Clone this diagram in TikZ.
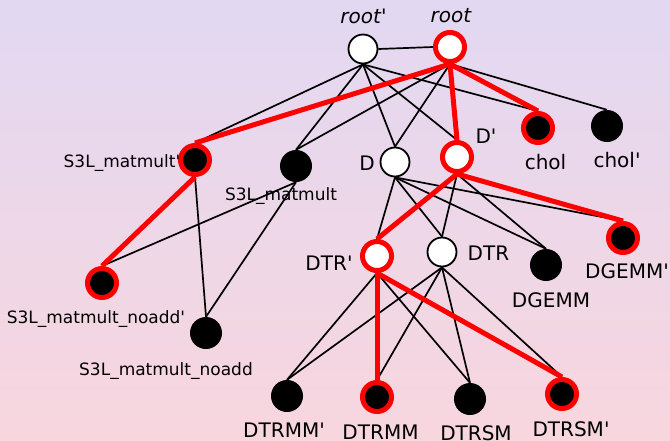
\documentclass[tikz,border=0pt]{standalone}
\usepackage{fontspec}
\setmainfont{DejaVu Sans}[Ligatures=TeXOff]
\pgfdeclarelayer{back}
\pgfdeclarelayer{edges}
\pgfsetlayers{back,edges,main}
\definecolor{bgtop}{RGB}{226,216,242}
\definecolor{bgbottom}{RGB}{248,214,222}
\begin{document}
\begin{tikzpicture}[x=1pt,y=-1pt,
  every node/.style={inner sep=0pt},
  opennode/.style={circle,draw=black,line width=1.8pt,fill=white,minimum size=29pt},
  solidnode/.style={circle,fill=black,minimum size=32pt},
  redopen/.style={circle,draw=red,line width=5pt,fill=white,minimum size=29pt},
  redsolid/.style={circle,draw=red,line width=5pt,fill=black,minimum size=29pt},
  big/.style={font=\fontsize{20}{20}\selectfont,anchor=base},
  small/.style={font=\fontsize{17}{17}\selectfont,anchor=base},
  link/.style={line width=1.7pt,black},
  hot/.style={line width=5pt,red},
]
\useasboundingbox (0,0) rectangle (670,440);
\begin{pgfonlayer}{back}
  \shade[top color=bgtop,bottom color=bgbottom] (0,0) rectangle (670,440);
\end{pgfonlayer}

% vertices
\node[opennode]  (rootp)   at (363,49)  {};
\node[redopen]   (root)    at (450,47)  {};
\node[redsolid]  (chol)    at (538,128) {};
\node[solidnode] (cholp)   at (607,126) {};
\node[redsolid]  (mmp)     at (195,160) {};
\node[solidnode] (mm)      at (296,166) {};
\node[opennode]  (D)       at (395,162) {};
\node[redopen]   (Dp)      at (457,157) {};
\node[redopen]   (DTRp)    at (377,256) {};
\node[opennode]  (DTR)     at (442,252) {};
\node[solidnode] (dgemm)   at (546,265) {};
\node[redsolid]  (dgemmp)  at (623,238) {};
\node[redsolid]  (noaddp)  at (102,283) {};
\node[solidnode] (noadd)   at (206,333) {};
\node[solidnode] (dtrmmp)  at (287,396) {};
\node[redsolid]  (dtrmm)   at (377,397) {};
\node[solidnode] (dtrsm)   at (470,399) {};
\node[redsolid]  (dtrsmp)  at (562,394) {};

% labels
\node[big,font=\fontsize{20}{20}\selectfont\itshape] (lrootp) at (363.5,23) {root'};
\node[big,font=\fontsize{20}{20}\selectfont\itshape] (lroot)  at (451,22)   {root};
\node[small] (lmmp)    at (122,167) {S3L\_matmult'};
\node[small] (lmm)     at (281,200) {S3L\_matmult};
\node[big]   (lD)      at (367,170) {D};
\node[big]   (lDp)     at (486,143) {D'};
\node[big]   (lchol)   at (545.5,169) {chol};
\node[big]   (lcholp)  at (617,167) {chol'};
\node[big]   (lDTRp)   at (329,270) {DTR'};
\node[big]   (lDTR)    at (488.5,260) {DTR};
\node[big]   (ldgemm)  at (551,307) {DGEMM};
\node[big]   (ldgemmp) at (627,278) {DGEMM'};
\node[small] (lnoaddp) at (96,323)  {S3L\_matmult\_noadd'};
\node[small] (lnoadd)  at (166,375) {S3L\_matmult\_noadd};
\node[big]   (ldtrmmp) at (284,437) {DTRMM'};
\node[big]   (ldtrmm)  at (380.5,439) {DTRMM};
\node[big]   (ldtrsm)  at (476,440) {DTRSM};
\node[big]   (ldtrsmp) at (571,436) {DTRSM'};

% connectors
\begin{pgfonlayer}{edges}
  \draw[link] (rootp.east) -- (root.west);
  \foreach \t in {mmp,mm,D,Dp,chol} \draw[link] (rootp.south) -- (\t.north);
  \foreach \t in {mm,D,cholp} \draw[link] (root.south) -- (\t.north);
  \draw[link] (mmp.south) -- (noadd.north);
  \foreach \t in {noaddp,noadd} \draw[link] (mm.south) -- (\t.north);
  \foreach \t in {DTRp,DTR,dgemm,dgemmp} \draw[link] (D.south) -- (\t.north);
  \foreach \t in {DTR,dgemm} \draw[link] (Dp.south) -- (\t.north);
  \foreach \t in {dtrmmp,dtrsm} \draw[link] (DTRp.south) -- (\t.north);
  \foreach \t in {dtrmmp,dtrmm,dtrsm,dtrsmp} \draw[link] (DTR.south) -- (\t.north);
  % highlighted path
  \foreach \t in {mmp,Dp,chol} \draw[hot] (root.south) -- (\t.north);
  \draw[hot] (mmp.south) -- (noaddp.north);
  \foreach \t in {DTRp,dgemmp} \draw[hot] (Dp.south) -- (\t.north);
  \foreach \t in {dtrmm,dtrsmp} \draw[hot] (DTRp.south) -- (\t.north);
\end{pgfonlayer}
\end{tikzpicture}
\end{document}
